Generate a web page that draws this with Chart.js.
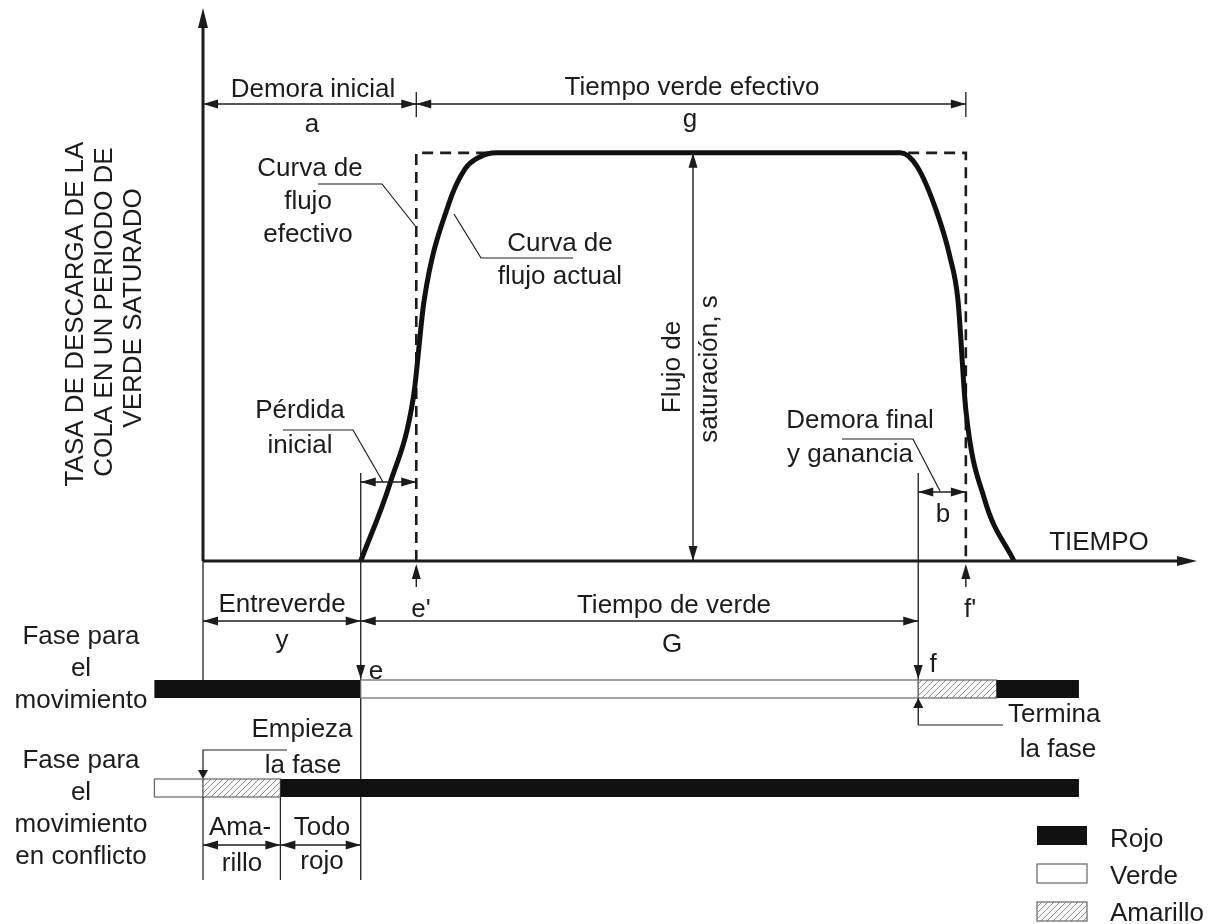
<!DOCTYPE html>
<html>
<head>
<meta charset="utf-8">
<script src="https://cdn.jsdelivr.net/npm/chart.js@4.4.1/dist/chart.umd.min.js"></script>
<style>
  html, body { margin: 0; background: #fff; }
  #wrap { width: 1211px; height: 924px; }
</style>
</head>
<body>
<div id="wrap"><canvas id="chartCanvas"></canvas></div>
<script>
// Actual discharge curve (time units, flow as share of saturation flow s)
var flowTime = [15.9, 18.85, 21.2, 22.3, 24.7, 26.4, 27.9, 29.6, 70.3, 72.0, 74.0, 75.3, 76.1, 76.9, 78.8, 81.75];
var flowRate = [0, 0.19, 0.40, 0.64, 0.87, 0.96, 0.99, 1.0, 1.0, 0.966, 0.853, 0.745, 0.64, 0.37, 0.15, 0];

// Effective (rectangular) flow curve
var effTime = [21.5, 21.5, 76.9, 76.9];
var effRate = [0, 1, 1, 0];

// Instants on the time axis
var tE = 15.9;       // e  : start of green
var tEp = 21.5;      // e' : start of effective green
var tF = 72.1;       // f  : end of green
var tFp = 76.9;      // f' : end of effective green
var tAllRed = 7.8;   // conflicting phase: yellow -> all red

// Signal phases
var movBounds = [-4.9, 15.9, 72.1, 80.0, 88.3];
var movStates = ['rojo', 'verde', 'amarillo', 'rojo'];
var conBounds = [-4.9, 0, 7.8, 88.3];
var conStates = ['verde', 'amarillo', 'rojo'];

var legendStates = ['rojo', 'verde', 'amarillo'];
var legendNames = ['Rojo', 'Verde', 'Amarillo'];

var FONT = '26px "Liberation Sans", Arial, sans-serif';
var INK = '#1c1c1c';

function toPoints(xs, ys) {
  return xs.map(function (x, i) { return { x: x, y: ys[i] }; });
}

function line(ctx, x1, y1, x2, y2, w) {
  ctx.lineWidth = w || 1.3;
  ctx.beginPath();
  ctx.moveTo(x1, y1);
  ctx.lineTo(x2, y2);
  ctx.stroke();
}

function head(ctx, x, y, dir, len, half) {
  len = len || 15; half = half || 4.5;
  ctx.beginPath();
  ctx.moveTo(x, y);
  if (dir === 'left') { ctx.lineTo(x + len, y - half); ctx.lineTo(x + len, y + half); }
  if (dir === 'right') { ctx.lineTo(x - len, y - half); ctx.lineTo(x - len, y + half); }
  if (dir === 'up') { ctx.lineTo(x - half, y + len); ctx.lineTo(x + half, y + len); }
  if (dir === 'down') { ctx.lineTo(x - half, y - len); ctx.lineTo(x + half, y - len); }
  ctx.closePath();
  ctx.fill();
}

// dimension line with arrow tips touching both limits
function dim(ctx, x1, x2, y) {
  line(ctx, x1, y, x2, y, 1.4);
  head(ctx, x1, y, 'left');
  head(ctx, x2, y, 'right');
}

function text(ctx, str, x, y, align) {
  ctx.textAlign = align || 'center';
  ctx.fillText(str, x, y);
}

function vtext(ctx, str, x, y) {
  ctx.save();
  ctx.translate(x, y);
  ctx.rotate(-Math.PI / 2);
  ctx.textAlign = 'center';
  ctx.fillText(str, 0, 0);
  ctx.restore();
}

function hatchPattern(ctx) {
  var p = document.createElement('canvas');
  p.width = 6; p.height = 6;
  var g = p.getContext('2d');
  g.fillStyle = '#fff';
  g.fillRect(0, 0, 6, 6);
  g.strokeStyle = '#8c8c8c';
  g.lineWidth = 1;
  g.beginPath();
  g.moveTo(0, 6); g.lineTo(6, 0);
  g.moveTo(-1, 1); g.lineTo(1, -1);
  g.moveTo(5, 7); g.lineTo(7, 5);
  g.stroke();
  return ctx.createPattern(p, 'repeat');
}

function swatch(ctx, state, x, y, w, h, hatch) {
  if (state === 'rojo') {
    ctx.fillStyle = '#111';
    ctx.fillRect(x, y, w, h);
  } else {
    ctx.fillStyle = state === 'amarillo' ? hatch : '#fff';
    ctx.fillRect(x, y, w, h);
    ctx.strokeStyle = '#666';
    ctx.lineWidth = 1.2;
    ctx.strokeRect(x, y, w, h);
  }
}

function phaseBar(ctx, X, bounds, states, top, h, hatch) {
  for (var i = 0; i < states.length; i++) {
    var x1 = X(bounds[i]), x2 = X(bounds[i + 1]);
    swatch(ctx, states[i], x1, top, x2 - x1, h, hatch);
  }
}

var diagramPlugin = {
  id: 'diagram',
  afterDraw: function (chart) {
    var ctx = chart.ctx;
    var xs = chart.scales.x, ys = chart.scales.y;
    var X = function (t) { return xs.getPixelForValue(t); };
    var Y = function (v) { return ys.getPixelForValue(v); };
    var x0 = X(0), y0 = Y(0), ySat = Y(1);
    var hatch = hatchPattern(ctx);

    ctx.save();
    ctx.strokeStyle = INK;
    ctx.fillStyle = INK;

    // axes
    line(ctx, x0, y0, x0, chart.chartArea.top + 12, 3);
    head(ctx, x0, chart.chartArea.top - 2, 'up', 20, 5);
    line(ctx, x0, y0, chart.chartArea.right - 10, y0, 3);
    head(ctx, chart.chartArea.right + 2, y0, 'right', 20, 5);

    // top dimensions
    dim(ctx, x0, X(tEp), 104);
    dim(ctx, X(tEp), X(tFp), 104);
    line(ctx, X(tEp), 92, X(tEp), 117, 1.3);
    line(ctx, X(tFp), 92, X(tFp), 117, 1.3);

    // saturation flow arrow
    var xs_ = 693;
    line(ctx, xs_, ySat, xs_, y0, 1.4);
    head(ctx, xs_, ySat, 'up');
    head(ctx, xs_, y0, 'down');

    // leaders
    ctx.lineWidth = 1.2;
    ctx.beginPath();
    ctx.moveTo(318, 184); ctx.lineTo(382, 184); ctx.lineTo(X(tEp) - 1, 226);
    ctx.moveTo(454, 214); ctx.lineTo(481, 258); ctx.lineTo(573, 258);
    ctx.moveTo(283, 430); ctx.lineTo(353, 430); ctx.lineTo(383, 482);
    ctx.moveTo(842, 439); ctx.lineTo(913, 439); ctx.lineTo(940, 491);
    ctx.stroke();

    // lost time and end gain
    line(ctx, X(tE), 473, X(tE), 880, 1.3);
    dim(ctx, X(tE), X(tEp), 482);
    line(ctx, X(tF), 473, X(tF), 725, 1.3);
    dim(ctx, X(tF), X(tFp), 492);

    // e' and f' markers
    line(ctx, X(tEp), y0 + 26, X(tEp), y0 + 6, 1.4);
    head(ctx, X(tEp), y0 + 3, 'up', 15, 4.5);
    line(ctx, X(tFp), y0 + 26, X(tFp), y0 + 6, 1.4);
    head(ctx, X(tFp), y0 + 3, 'up', 15, 4.5);

    // intergreen and green time
    line(ctx, x0, y0, x0, 680, 1.3);
    dim(ctx, x0, X(tE), 621);
    dim(ctx, X(tE), X(tF), 621);

    // phase bars
    phaseBar(ctx, X, movBounds, movStates, 680, 18, hatch);
    phaseBar(ctx, X, conBounds, conStates, 779, 18, hatch);

    ctx.strokeStyle = INK;
    ctx.fillStyle = INK;
    head(ctx, X(tE), 679, 'down', 14, 4.5);
    head(ctx, X(tF), 679, 'down', 14, 4.5);
    head(ctx, X(tF), 698, 'up', 10, 5);
    line(ctx, X(tF), 725, 1003, 725, 1.2);

    // start of conflicting phase
    ctx.lineWidth = 1.2;
    ctx.beginPath();
    ctx.moveTo(287, 750); ctx.lineTo(x0, 750); ctx.lineTo(x0, 770);
    ctx.stroke();
    head(ctx, x0, 779, 'down', 9, 5);

    // yellow / all red dims
    line(ctx, x0, 797, x0, 880, 1.2);
    line(ctx, X(tAllRed), 797, X(tAllRed), 880, 1.2);
    dim(ctx, x0, X(tAllRed), 845);
    dim(ctx, X(tAllRed), X(tE), 845);

    // legend
    for (var i = 0; i < legendStates.length; i++) {
      var ly = [826, 864, 902][i];
      swatch(ctx, legendStates[i], 1037, ly, 50, 19, hatch);
    }

    // texts
    ctx.fillStyle = INK;
    ctx.font = FONT;
    ctx.textBaseline = 'alphabetic';
    text(ctx, 'Demora inicial', 313, 97);
    text(ctx, 'a', 312, 132);
    text(ctx, 'Tiempo verde efectivo', 692, 95);
    text(ctx, 'g', 690, 127);
    text(ctx, 'Curva de', 310, 176);
    text(ctx, 'flujo', 308, 209);
    text(ctx, 'efectivo', 308, 242);
    text(ctx, 'Curva de', 560, 251);
    text(ctx, 'flujo actual', 560, 284);
    text(ctx, 'Pérdida', 300, 418);
    text(ctx, 'inicial', 300, 453);
    text(ctx, 'Demora final', 860, 428);
    text(ctx, 'y ganancia', 850, 462);
    text(ctx, 'b', 943, 522);
    text(ctx, 'TIEMPO', 1099, 550);
    text(ctx, "e'", 421, 617);
    text(ctx, "f'", 970, 617);
    text(ctx, 'Entreverde', 282, 612);
    text(ctx, 'Tiempo de verde', 674, 613);
    text(ctx, 'y', 282, 648);
    text(ctx, 'G', 672, 652);
    text(ctx, 'e', 376, 679);
    text(ctx, 'f', 933, 672);
    text(ctx, 'Termina', 1008, 722, 'left');
    text(ctx, 'la fase', 1058, 757);
    text(ctx, 'Empieza', 302, 737);
    text(ctx, 'la fase', 303, 773);
    text(ctx, 'Fase para', 81, 644);
    text(ctx, 'el', 81, 676);
    text(ctx, 'movimiento', 81, 708);
    text(ctx, 'Fase para', 81, 768);
    text(ctx, 'el', 81, 800);
    text(ctx, 'movimiento', 81, 832);
    text(ctx, 'en conflicto', 81, 864);
    text(ctx, 'Ama-', 240, 835);
    text(ctx, 'rillo', 242, 871);
    text(ctx, 'Todo', 322, 835);
    text(ctx, 'rojo', 322, 869);
    for (var j = 0; j < legendNames.length; j++) {
      text(ctx, legendNames[j], 1110, [847, 884, 921][j], 'left');
    }

    vtext(ctx, 'Flujo de', 680, 367);
    vtext(ctx, 'saturación, s', 717, 369);
    vtext(ctx, 'TASA DE DESCARGA DE LA', 83, 314);
    vtext(ctx, 'COLA EN UN PERIODO DE', 112, 312);
    vtext(ctx, 'VERDE SATURADO', 141, 308);

    ctx.restore();
  }
};

var ctx = document.getElementById('chartCanvas').getContext('2d');

var chart = new Chart(ctx, {
  type: 'line',
  data: {
    datasets: [
      {
        label: 'Curva de flujo actual',
        data: toPoints(flowTime, flowRate),
        borderColor: '#111',
        borderWidth: 5,
        pointRadius: 0,
        cubicInterpolationMode: 'monotone',
        borderJoinStyle: 'round',
        clip: false
      },
      {
        label: 'Curva de flujo efectivo',
        data: toPoints(effTime, effRate),
        borderColor: '#1c1c1c',
        borderWidth: 2.6,
        borderDash: [11, 7],
        pointRadius: 0,
        tension: 0,
        clip: false
      }
    ]
  },
  options: {
    responsive: true,
    maintainAspectRatio: false,
    animation: false,
    layout: { padding: { left: 203, right: 16, top: 10, bottom: 363 } },
    scales: {
      x: { type: 'linear', min: 0, max: 100, display: false },
      y: { type: 'linear', min: 0, max: 1.35, display: false }
    },
    plugins: {
      legend: { display: false },
      tooltip: { enabled: false }
    }
  },
  plugins: [diagramPlugin]
});
</script>
</body>
</html>
